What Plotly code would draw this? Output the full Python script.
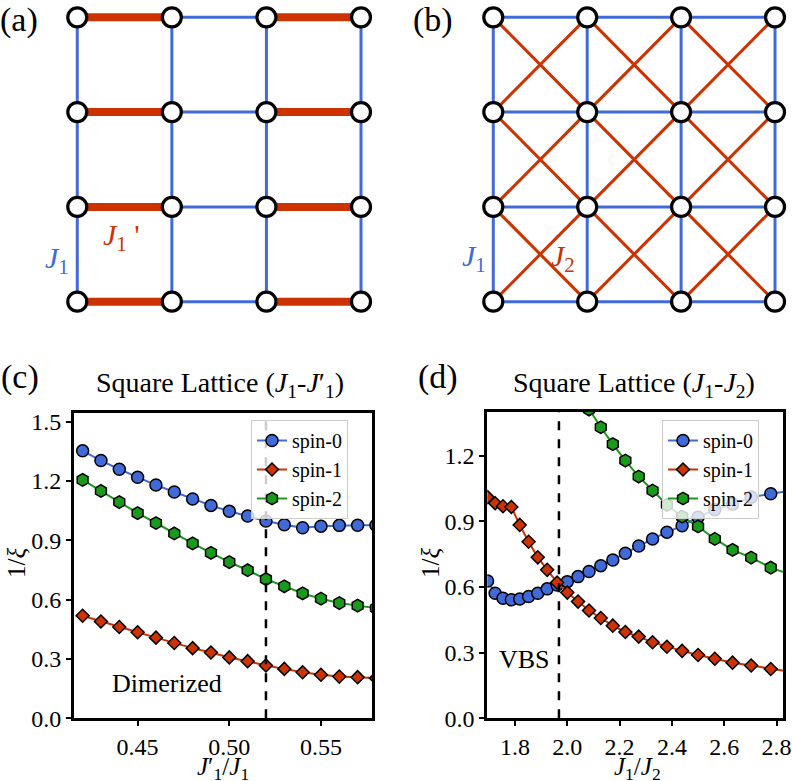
import plotly.graph_objects as go

W, H = 792, 781
FONT = "Liberation Serif"
BLUE = "#3f6ad8"
RED = "#cc3300"
GREEN = "#1a9a1a"

# ---------------- data: panel (c)  J1-J1' ----------------
c_x = [0.42, 0.43, 0.44, 0.45, 0.46, 0.47, 0.48, 0.49, 0.50, 0.51,
       0.52, 0.53, 0.54, 0.55, 0.56, 0.57, 0.58]
c_spin0 = [1.353, 1.304, 1.260, 1.219, 1.180, 1.145, 1.109, 1.077, 1.047, 1.023,
           0.998, 0.979, 0.964, 0.972, 0.976, 0.977, 0.977]
c_spin1 = [0.519, 0.490, 0.462, 0.435, 0.408, 0.381, 0.355, 0.333, 0.308, 0.289,
           0.267, 0.250, 0.233, 0.220, 0.211, 0.208, 0.203]
c_spin2 = [1.206, 1.150, 1.094, 1.038, 0.988, 0.935, 0.885, 0.837, 0.790, 0.749,
           0.704, 0.668, 0.632, 0.605, 0.583, 0.570, 0.557]
c_crit = 0.52
c_xticks = [0.45, 0.50, 0.55]
c_yticks = [0.0, 0.3, 0.6, 0.9, 1.2, 1.5]

# ---------------- data: panel (d)  J1-J2 ----------------
d_x = [1.695, 1.724, 1.754, 1.786, 1.818, 1.852, 1.887, 1.923, 1.961, 2.000,
       2.041, 2.083, 2.128, 2.174, 2.222, 2.273, 2.326, 2.381, 2.439, 2.500,
       2.564, 2.632, 2.703, 2.778, 2.857]
d_spin0 = [0.627, 0.571, 0.548, 0.541, 0.545, 0.556, 0.571, 0.591, 0.609, 0.624,
           0.647, 0.670, 0.697, 0.723, 0.754, 0.787, 0.819, 0.850, 0.879, 0.918,
           0.952, 0.978, 1.010, 1.025, 1.040]
d_spin1 = [1.010, 0.982, 0.968, 0.965, 0.883, 0.806, 0.735, 0.678, 0.620, 0.574,
           0.533, 0.492, 0.458, 0.423, 0.394, 0.373, 0.347, 0.327, 0.308, 0.289,
           0.272, 0.254, 0.241, 0.225, 0.212]
d_spin2 = [None, None, None, None, None, None, None, None, None, None,
           1.490, 1.410, 1.329, 1.252, 1.177, 1.104, 1.040, 0.975, 0.921, 0.876,
           0.819, 0.769, 0.734, 0.688, 0.655]
d_crit = 1.968
d_xticks = [1.8, 2.0, 2.2, 2.4, 2.6, 2.8]
d_yticks = [0.0, 0.3, 0.6, 0.9, 1.2]

series_names = ["spin-0", "spin-1", "spin-2"]
series_colors = [BLUE, RED, GREEN]
series_symbols = ["circle", "diamond", "hexagon"]
series_sizes = [12, 10, 12.5]

# ---------------- lattice ----------------
L = 4
sites = list(range(L))

fig = go.Figure()


def seg_trace(segs, color, width, xa, ya):
    xs, ys = [], []
    for (x0, y0), (x1, y1) in segs:
        xs += [x0, x1, None]
        ys += [y0, y1, None]
    return go.Scatter(x=xs, y=ys, mode="lines", line=dict(color=color, width=width),
                      xaxis=xa, yaxis=ya, showlegend=False, hoverinfo="skip",
                      cliponaxis=False)


def nodes_trace(xa, ya):
    xs = [i for j in sites for i in sites]
    ys = [j for j in sites for i in sites]
    return go.Scatter(x=xs, y=ys, mode="markers",
                      marker=dict(symbol="circle", size=19, color="white",
                                  line=dict(color="black", width=3.2)),
                      xaxis=xa, yaxis=ya, showlegend=False, hoverinfo="skip",
                      cliponaxis=False)


# (a) dimerized lattice
red_a, blue_a = [], []
for j in sites:
    for i in sites[:-1]:
        if i % 2 == 0:
            red_a.append(((i, j), (i + 1, j)))
        else:
            blue_a.append(((i, j), (i + 1, j)))
for i in sites:
    for j in sites[:-1]:
        blue_a.append(((i, j), (i, j + 1)))
fig.add_trace(seg_trace(blue_a, BLUE, 3, "x", "y"))
fig.add_trace(seg_trace(red_a, RED, 8, "x", "y"))
fig.add_trace(nodes_trace("x", "y"))

# (b) J1-J2 lattice
blue_b, red_b = [], []
for j in sites:
    for i in sites[:-1]:
        blue_b.append(((i, j), (i + 1, j)))
        blue_b.append(((j, i), (j, i + 1)))
for i in sites[:-1]:
    for j in sites[:-1]:
        red_b.append(((i, j), (i + 1, j + 1)))
        red_b.append(((i + 1, j), (i, j + 1)))
fig.add_trace(seg_trace(blue_b, BLUE, 3, "x2", "y2"))
fig.add_trace(seg_trace(red_b, RED, 3, "x2", "y2"))
fig.add_trace(nodes_trace("x2", "y2"))

# (c) and (d) data
for name, col, sym, sz, yc, yd in zip(series_names, series_colors, series_symbols,
                                      series_sizes, [c_spin0, c_spin1, c_spin2],
                                      [d_spin0, d_spin1, d_spin2]):
    fig.add_trace(go.Scatter(x=c_x, y=yc, mode="lines+markers", name=name,
                             line=dict(color=col, width=2),
                             marker=dict(symbol=sym, size=sz, color=col,
                                         line=dict(color="black", width=1.5)),
                             xaxis="x3", yaxis="y3", legend="legend"))
    fig.add_trace(go.Scatter(x=d_x, y=yd, mode="lines+markers", name=name,
                             line=dict(color=col, width=2),
                             marker=dict(symbol=sym, size=sz, color=col,
                                         line=dict(color="black", width=1.5)),
                             xaxis="x4", yaxis="y4", legend="legend2"))


def dom_x(a, b):
    return [a / W, b / W]


def dom_y(top, bottom):
    return [1 - bottom / H, 1 - top / H]


hidden = dict(visible=False, showgrid=False, zeroline=False, automargin=False)
tickfont = dict(family=FONT, size=24, color="black")
axstyle = dict(showline=True, linecolor="black", linewidth=3, mirror=True,
               ticks="outside", ticklen=5, tickwidth=2, tickcolor="black",
               showgrid=False, zeroline=False, tickfont=tickfont,
               ticklabeloverflow="allow", automargin=False)

fig.update_layout(
    width=W, height=H, margin=dict(l=0, r=0, t=0, b=0),
    plot_bgcolor="white", paper_bgcolor="white",
    xaxis=dict(domain=dom_x(48.9, 375.2), range=[-0.3, 3.15], anchor="y", **hidden),
    yaxis=dict(domain=dom_y(3.1, 330.1), range=[-0.3, 3.15], anchor="x", **hidden),
    xaxis2=dict(domain=dom_x(465.1, 789.1), range=[-0.3, 3.15], anchor="y2", **hidden),
    yaxis2=dict(domain=dom_y(3.1, 330.1), range=[-0.3, 3.15], anchor="x2", **hidden),
    xaxis3=dict(domain=dom_x(74, 372.3), range=[0.4153, 0.578], anchor="y3",
                tickvals=c_xticks, tickformat=".2f", **axstyle),
    yaxis3=dict(domain=dom_y(412.7, 718.3), range=[0, 1.546], anchor="x3",
                tickvals=c_yticks, tickformat=".1f", **axstyle),
    xaxis4=dict(domain=dom_x(487.3, 783.3), range=[1.694, 2.826], anchor="y4",
                tickvals=d_xticks, tickformat=".1f", **axstyle),
    yaxis4=dict(domain=dom_y(411.7, 718.3), range=[0, 1.40], anchor="x4",
                tickvals=d_yticks, tickformat=".1f", **axstyle),
    legend=dict(x=251 / W, xanchor="left", y=1 - 420 / H, yanchor="top",
                bgcolor="rgba(255,255,255,0.8)", bordercolor="#cccccc", borderwidth=1,
                font=dict(family=FONT, size=20, color="black")),
    legend2=dict(x=662 / W, xanchor="left", y=1 - 420 / H, yanchor="top",
                 bgcolor="rgba(255,255,255,0.8)", bordercolor="#cccccc", borderwidth=1,
                 font=dict(family=FONT, size=20, color="black")),
)

# dashed critical lines
for xv, xr, yr in [(c_crit, "x3", "y3 domain"), (d_crit, "x4", "y4 domain")]:
    fig.add_shape(type="line", x0=xv, x1=xv, y0=0, y1=1, xref=xr, yref=yr,
                  line=dict(color="black", width=2.5, dash="dash"), layer="above")

ann = []


def paper_text(txt, px, py, size, angle=0, color="black", yanchor="middle"):
    ann.append(dict(text=txt, x=px / W, y=1 - py / H, xref="paper", yref="paper",
                    xanchor="center", yanchor=yanchor, showarrow=False,
                    textangle=angle, font=dict(family=FONT, size=size, color=color)))


paper_text("(a)", 19, 20, 34)
paper_text("(b)", 433, 20, 34)
paper_text("(c)", 20, 377, 34)
paper_text("(d)", 438, 377, 34)
paper_text("Square Lattice (<i>J</i><sub>1</sub>-<i>J</i>′<sub>1</sub>)", 220, 384, 28)
paper_text("Square Lattice (<i>J</i><sub>1</sub>-<i>J</i><sub>2</sub>)", 634, 384, 28)
paper_text("1/<i>ξ</i>", 16, 563, 25, angle=-90)
paper_text("1/<i>ξ</i>", 430, 563, 25, angle=-90)
paper_text("<i>J</i>′<sub>1</sub>/<i>J</i><sub>1</sub>", 223, 751, 25, yanchor="top")
paper_text("<i>J</i><sub>1</sub>/<i>J</i><sub>2</sub>", 637, 751, 25, yanchor="top")

# lattice labels
for txt, xx, yy, col, xr, yr in [
    ("<i>J</i><sub>1</sub>", -0.21, 0.44, BLUE, "x", "y"),
    ("<i>J</i><sub>1</sub> '", 0.47, 0.68, RED, "x", "y"),
    ("<i>J</i><sub>1</sub>", -0.21, 0.46, BLUE, "x2", "y2"),
    ("<i>J</i><sub>2</sub>", 0.745, 0.46, RED, "x2", "y2"),
]:
    ann.append(dict(text=txt, x=xx, y=yy, xref=xr, yref=yr, showarrow=False,
                    xanchor="center", yanchor="middle",
                    font=dict(family=FONT, size=30, color=col)))

# in-plot phase labels
ann.append(dict(text="Dimerized", x=0.466, y=0.178, xref="x3", yref="y3", showarrow=False,
                font=dict(family=FONT, size=26, color="black")))
ann.append(dict(text="VBS", x=1.838, y=0.269, xref="x4", yref="y4", showarrow=False,
                font=dict(family=FONT, size=26, color="black")))

fig.update_layout(annotations=ann)
fig.write_html("out.html")
